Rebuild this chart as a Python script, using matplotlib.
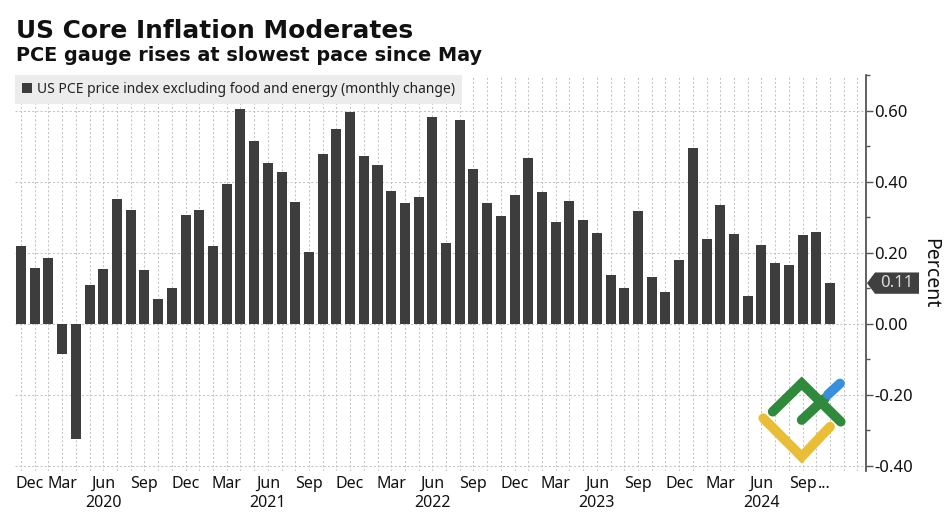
import matplotlib
matplotlib.use("Agg")
import matplotlib.pyplot as plt
import matplotlib.transforms as mtransforms
from matplotlib.lines import Line2D
from matplotlib.patches import Polygon
import numpy as np

# ---- data ----
months = ["Dec"] + ["Jan", "Feb", "Mar", "Apr", "May", "Jun", "Jul", "Aug", "Sep", "Oct", "Nov", "Dec"] * 4 + \
         ["Jan", "Feb", "Mar", "Apr", "May", "Jun", "Jul", "Aug", "Sep", "Oct", "Nov"]
values = [0.218,
          0.157, 0.186, -0.085, -0.324, 0.108, 0.153, 0.350, 0.319, 0.151, 0.068, 0.100, 0.307,
          0.319, 0.218, 0.393, 0.605, 0.513, 0.452, 0.428, 0.342, 0.201, 0.477, 0.549, 0.596,
          0.473, 0.447, 0.374, 0.339, 0.357, 0.583, 0.226, 0.572, 0.436, 0.339, 0.302, 0.361,
          0.466, 0.370, 0.287, 0.346, 0.292, 0.254, 0.138, 0.101, 0.318, 0.131, 0.088, 0.179,
          0.495, 0.238, 0.335, 0.253, 0.079, 0.221, 0.171, 0.164, 0.249, 0.259, 0.114]
tick_idx = list(range(0, 60, 3))          # Dec, Mar, Jun, Sep ...
year_idx = [6, 18, 30, 42, 54]
year_labels = ["2020", "2021", "2022", "2023", "2024"]
yticks = [-0.40, -0.20, 0.00, 0.20, 0.40, 0.60]
series_name = "US PCE price index excluding food and energy (monthly change)"
title = "US Core Inflation Moderates"
subtitle = "PCE gauge rises at slowest pace since May"

W, H = 944, 512
fig = plt.figure(figsize=(W / 100, H / 100), dpi=100)
fig.patch.set_facecolor("white")

ax_l, ax_r, ax_t, ax_b = 15, 866, 75, 471
ax = fig.add_axes([ax_l / W, 1 - ax_b / H, (ax_r - ax_l) / W, (ax_b - ax_t) / H])

bar_color = "#3d3d3d"
x = np.arange(len(values))
ax.bar(x, values, width=0.73, color=bar_color, zorder=3, label=series_name)

ax.set_xlim(-0.44, 61.63)
ax.set_ylim(-0.415, 0.695)

# spines
for s in ["left", "top", "bottom"]:
    ax.spines[s].set_visible(False)
ax.spines["right"].set_color("#555555")
ax.spines["right"].set_linewidth(1.3)

# y ticks on right
ax.yaxis.tick_right()
ax.set_yticks(yticks)
ax.set_yticklabels([f"{v:.2f}" for v in yticks], fontfamily="Noto Sans", fontsize=12, color="#111111")
ax.set_yticks([-0.3, -0.1, 0.1, 0.3, 0.5, 0.7], minor=True)
ax.tick_params(axis="y", which="major", direction="out", length=5, width=1, color="#555555", pad=1)
ax.tick_params(axis="y", which="minor", direction="out", length=3, width=1, color="#555555")

# x grid at each month
ax.set_xticks(np.arange(0, 62), minor=True)
ax.set_xticks([])
ax.tick_params(axis="x", which="both", length=0, labelbottom=False)
ax.grid(axis="x", which="minor", color="#c4c4c4", linestyle=(0, (2, 2)), linewidth=0.75, zorder=0)
ax.grid(axis="y", which="major", color="#c4c4c4", linestyle=(0, (2, 2)), linewidth=0.75, zorder=0)

# x labels
trans = mtransforms.blended_transform_factory(ax.transData, ax.transAxes)
lab_y = (ax_b - 488) / (ax_b - ax_t)
yr_y = (ax_b - 507) / (ax_b - ax_t)
for k, i in enumerate(tick_idx):
    txt = months[i]
    ha = "center"
    xi = i
    if k == 0:
        ha = "left"
        xi = i - 0.38
    ax.text(xi, lab_y, txt, transform=trans, ha=ha, va="baseline",
            fontfamily="Noto Sans", fontsize=11.5, color="#111111", clip_on=False)
last = tick_idx[-1]
ax.text(last + 1.15, lab_y, "...", transform=trans, ha="left", va="baseline",
        fontfamily="Noto Sans", fontsize=11.5, color="#111111", clip_on=False)
for i, yl in zip(year_idx, year_labels):
    ax.text(i, yr_y, yl, transform=trans, ha="center", va="baseline",
            fontfamily="Noto Sans", fontsize=11.5, color="#111111", clip_on=False)

# legend
leg = ax.legend(loc="upper left", bbox_to_anchor=(0, 1), borderaxespad=0, frameon=True,
                fancybox=False, handlelength=0.75, handleheight=0.75, handletextpad=0.3,
                borderpad=0.5, prop={"family": "Noto Sans", "size": 10})
leg.get_frame().set_facecolor("#ececec")
leg.get_frame().set_edgecolor("none")
leg.get_frame().set_alpha(1)
for t in leg.get_texts():
    t.set_color("#222222")
leg.set_zorder(5)

# last value tag
last_v = values[-1]
axw = ax_r - ax_l
px = lambda p: 1 + p / axw
hh = 0.03
tr_tag = mtransforms.blended_transform_factory(ax.transAxes, ax.transData)
tag = Polygon([(px(1), last_v), (px(9), last_v + hh), (px(53), last_v + hh),
               (px(53), last_v - hh), (px(9), last_v - hh)], closed=True,
              transform=tr_tag, facecolor="#404040", edgecolor="none", clip_on=False, zorder=6)
ax.add_patch(tag)
ax.text(px(31), last_v, f"{last_v:.2f}", transform=tr_tag,
        ha="center", va="center", fontfamily="Noto Sans", fontsize=12, color="#dddddd", clip_on=False, zorder=7)

# Percent label
fig.text(930 / W, 1 - 273 / H, "Percent", rotation=270, ha="center", va="center",
         fontfamily="Noto Sans", fontsize=14, color="#111111")

# titles
fig.text(16 / W, 1 - 38 / H, title, ha="left", va="baseline", fontfamily="DejaVu Sans",
         fontweight="bold", fontsize=17.9, color="#111111")
fig.text(16 / W, 1 - 61 / H, subtitle, ha="left", va="baseline", fontfamily="DejaVu Sans",
         fontweight="bold", fontsize=13.9, color="#111111")

# logo watermark
def fl(pts, color):
    xs = [p[0] / W for p in pts]
    ys = [1 - p[1] / H for p in pts]
    fig.add_artist(Line2D(xs, ys, transform=fig.transFigure, color=color, linewidth=7,
                          solid_capstyle="round", solid_joinstyle="miter", zorder=10))

fl([(763.3, 418.3), (801.7, 456.7), (830, 426.7)], "#e9bd36")
fl([(772.7, 411.7), (801.7, 383.3), (840.7, 421.7)], "#2f8a3c")
fl([(801.7, 420), (825, 398.3)], "#2f8a3c")
fl([(828, 394.5), (840, 383.5)], "#3a8fdc")

fig.savefig("out.png", dpi=100, facecolor="white")
